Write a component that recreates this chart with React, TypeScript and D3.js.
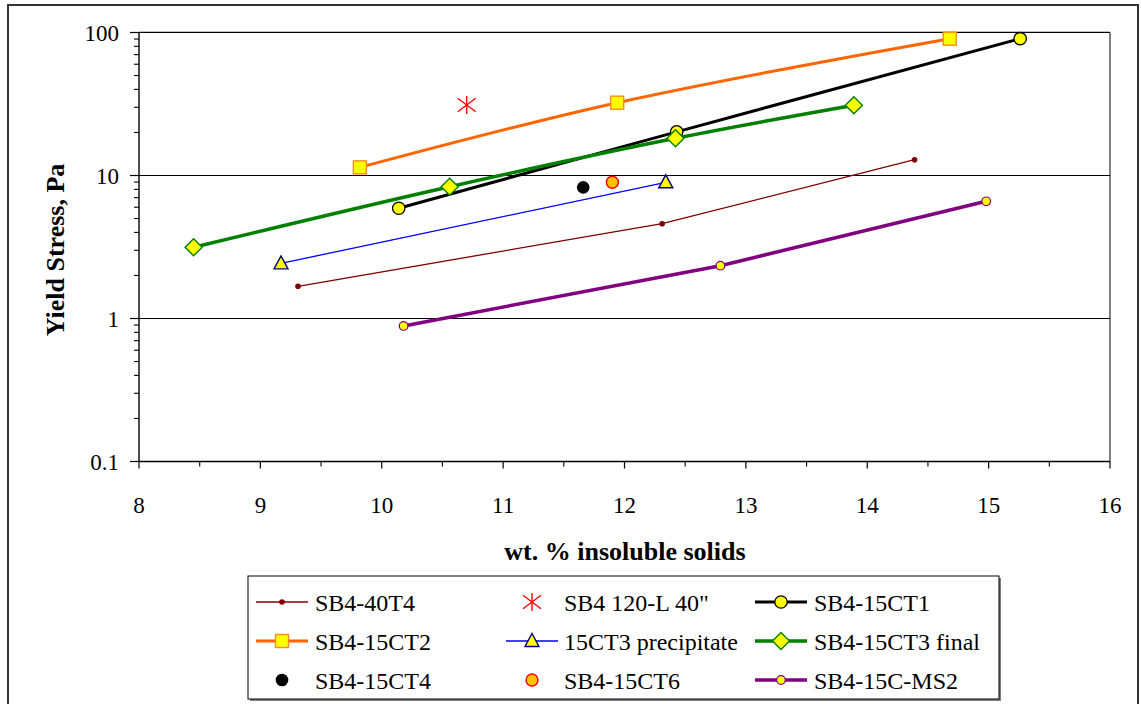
import React from "react";
import * as d3 from "d3";

const W = 1141;
const H = 704;

// x tick values / y tick values
const xTicks = [8, 9, 10, 11, 12, 13, 14, 15, 16];
const yTicks = [0.1, 1, 10, 100];
const yTickLabels = ["0.1", "1", "10", "100"];

// Series data
const s40T4X = [9.31, 12.31, 14.39];
const s40T4Y = [1.68, 4.6, 12.9];

const s120LX = [10.7];
const s120LY = [31.1];

const sCT1X = [10.14, 12.43, 15.26];
const sCT1Y = [5.9, 20.2, 90.5];

const sCT2X = [9.82, 11.94, 14.68];
const sCT2Y = [11.4, 32.3, 90.5];

const sCT3pX = [9.17, 12.34];
const sCT3pY = [2.43, 8.96];

const sCT3fX = [8.45, 10.56, 12.42, 13.89];
const sCT3fY = [3.15, 8.35, 18.2, 31.0];

const sCT4X = [11.66];
const sCT4Y = [8.26];

const sCT6X = [11.9];
const sCT6Y = [8.96];

const sMS2X = [10.18, 12.79, 14.98];
const sMS2Y = [0.887, 2.34, 6.6];

type Marker = "dot" | "star" | "circle" | "square" | "triangle" | "diamond" | "bigdot" | "orangecircle" | "smallcircle";

interface Series {
  name: string;
  xs: number[];
  ys: number[];
  color: string | null;
  width: number;
  smooth: boolean;
  marker: Marker;
}

const series: Series[] = [
  { name: "SB4-40T4", xs: s40T4X, ys: s40T4Y, color: "#800000", width: 1.3, smooth: false, marker: "dot" },
  { name: "SB4 120-L 40\"", xs: s120LX, ys: s120LY, color: null, width: 0, smooth: false, marker: "star" },
  { name: "SB4-15CT1", xs: sCT1X, ys: sCT1Y, color: "#000000", width: 3, smooth: true, marker: "circle" },
  { name: "SB4-15CT2", xs: sCT2X, ys: sCT2Y, color: "#FF6600", width: 3, smooth: true, marker: "square" },
  { name: "15CT3 precipitate", xs: sCT3pX, ys: sCT3pY, color: "#0000FF", width: 1.3, smooth: false, marker: "triangle" },
  { name: "SB4-15CT3 final", xs: sCT3fX, ys: sCT3fY, color: "#008000", width: 3.5, smooth: true, marker: "diamond" },
  { name: "SB4-15CT4", xs: sCT4X, ys: sCT4Y, color: null, width: 0, smooth: false, marker: "bigdot" },
  { name: "SB4-15CT6", xs: sCT6X, ys: sCT6Y, color: null, width: 0, smooth: false, marker: "orangecircle" },
  { name: "SB4-15C-MS2", xs: sMS2X, ys: sMS2Y, color: "#800080", width: 3.5, smooth: false, marker: "smallcircle" },
];

const SERIF = "'Liberation Serif', Tinos, 'Times New Roman', serif";

function MarkerShape({ type, x, y }: { type: Marker; x: number; y: number }) {
  switch (type) {
    case "dot":
      return <circle cx={x} cy={y} r={2.8} fill="#800000" />;
    case "star": {
      const s = 9;
      return (
        <g stroke="#FF0000" strokeWidth={1.4}>
          <line x1={x} y1={y - s} x2={x} y2={y + s} />
          <line x1={x - s} y1={y - s * 0.75} x2={x + s} y2={y + s * 0.75} />
          <line x1={x - s} y1={y + s * 0.75} x2={x + s} y2={y - s * 0.75} />
        </g>
      );
    }
    case "circle":
      return <circle cx={x} cy={y} r={6.2} fill="#FFFF00" stroke="#000" strokeWidth={1.3} />;
    case "square":
      return <rect x={x - 6.5} y={y - 6.5} width={13} height={13} fill="#FFFF00" stroke="#FF8C1A" strokeWidth={1.4} />;
    case "triangle":
      return (
        <path
          d={`M${x},${y - 7.5} L${x + 7},${y + 5.5} L${x - 7},${y + 5.5} Z`}
          fill="#FFFF00"
          stroke="#000080"
          strokeWidth={1.4}
        />
      );
    case "diamond":
      return (
        <path
          d={`M${x},${y - 8.5} L${x + 8.5},${y} L${x},${y + 8.5} L${x - 8.5},${y} Z`}
          fill="#FFFF00"
          stroke="#008000"
          strokeWidth={1.4}
        />
      );
    case "bigdot":
      return <circle cx={x} cy={y} r={6.3} fill="#000" />;
    case "orangecircle":
      return <circle cx={x} cy={y} r={6} fill="#FFC000" stroke="#FF0000" strokeWidth={1.4} />;
    case "smallcircle":
      return <circle cx={x} cy={y} r={4.3} fill="#FFFF00" stroke="#800080" strokeWidth={1.2} />;
  }
}

export default function App() {
  const left = 139;
  const right = 1110;
  const top = 32.5;
  const bottom = 461.5;

  const x = d3.scaleLinear().domain([8, 16]).range([left, right]);
  const y = d3.scaleLog().domain([0.1, 100]).range([bottom, top]);

  const minorY: number[] = [];
  for (const dec of [0.1, 1, 10]) {
    for (let k = 2; k <= 9; k++) minorY.push(dec * k);
  }
  const minorX = d3.range(8.5, 16, 1);

  const legendCols = [
    { sx0: 256, sx1: 308, tx: 315 },
    { sx0: 506, sx1: 558, tx: 564 },
    { sx0: 755, sx1: 807, tx: 814 },
  ];
  const legendRows = [602, 641, 680];
  const ts = { fontFamily: SERIF };

  return (
    <svg width={W} height={H} style={{ position: "absolute", left: 0, top: 0, background: "#fff", fontFamily: SERIF }}>
      {/* outer chart border */}
      <rect x={8} y={5} width={1130} height={720} fill="#fff" stroke="#333" strokeWidth={2} />

      {/* plot frame right side */}
      <line x1={right} y1={top} x2={right} y2={bottom} stroke="#808080" strokeWidth={2} />
      <line x1={left} y1={top - 0.5} x2={right} y2={top - 0.5} stroke="#808080" strokeWidth={1} />

      {/* gridlines */}
      {[1, 10, 100].map((v) => (
        <line key={v} x1={left} x2={right} y1={y(v)} y2={y(v)} stroke="#000" strokeWidth={1.1} />
      ))}

      {/* axes */}
      <line x1={left} y1={top} x2={left} y2={bottom} stroke="#000" strokeWidth={1.4} />
      <line x1={left} y1={bottom} x2={right} y2={bottom} stroke="#000" strokeWidth={1.4} />

      {yTicks.map((v) => (
        <line key={"ym" + v} x1={left - 9} x2={left} y1={y(v)} y2={y(v)} stroke="#000" strokeWidth={1.2} />
      ))}
      {minorY.map((v) => (
        <line key={"yn" + v} x1={left - 5} x2={left} y1={y(v)} y2={y(v)} stroke="#000" strokeWidth={1.1} />
      ))}
      {xTicks.map((v) => (
        <line key={"xm" + v} x1={x(v)} x2={x(v)} y1={bottom} y2={bottom + 7} stroke="#000" strokeWidth={1.2} />
      ))}
      {minorX.map((v) => (
        <line key={"xn" + v} x1={x(v)} x2={x(v)} y1={bottom} y2={bottom + 5} stroke="#000" strokeWidth={1.1} />
      ))}

      {yTicks.map((v, i) => (
        <text key={"yl" + v} x={119} y={y(v) + 8} textAnchor="end" fontSize={23} fill="#000" style={ts}>
          {yTickLabels[i]}
        </text>
      ))}
      {xTicks.map((v) => (
        <text key={"xl" + v} x={x(v)} y={513} textAnchor="middle" fontSize={23} fill="#000" style={ts}>
          {v}
        </text>
      ))}

      {/* axis titles */}
      <text x={625} y={560} textAnchor="middle" fontSize={26} fontWeight="bold" fill="#000" style={ts}>
        wt. % insoluble solids
      </text>
      <text
        transform={`translate(64,250) rotate(-90)`}
        textAnchor="middle"
        fontSize={26}
        fontWeight="bold"
        fill="#000"
        style={ts}
      >
        Yield Stress, Pa
      </text>

      {/* series lines */}
      {series.map((s) => {
        if (!s.color || s.xs.length < 2) return null;
        const pts: [number, number][] = s.xs.map((xv, i) => [x(xv), y(s.ys[i])]);
        const gen = d3
          .line<[number, number]>()
          .x((d) => d[0])
          .y((d) => d[1])
          .curve(s.smooth ? d3.curveCatmullRom.alpha(0.5) : d3.curveLinear);
        return (
          <path
            key={"l" + s.name}
            d={gen(pts) || ""}
            fill="none"
            stroke={s.color}
            strokeWidth={s.width}
            strokeLinejoin="round"
            strokeLinecap="round"
          />
        );
      })}
      {/* markers */}
      {series.map((s) =>
        s.xs.map((xv, i) => <MarkerShape key={s.name + i} type={s.marker} x={x(xv)} y={y(s.ys[i])} />)
      )}

      {/* legend */}
      <rect x={250} y={578} width={751} height={123} fill="#808080" />
      <rect x={248} y={576} width={751} height={123} fill="#fff" stroke="#000" strokeWidth={1} />
      {series.map((s, i) => {
        const col = legendCols[i % 3];
        const ry = legendRows[Math.floor(i / 3)];
        const mx = (col.sx0 + col.sx1) / 2;
        return (
          <g key={"lg" + s.name}>
            {s.color && (
              <line x1={col.sx0} x2={col.sx1} y1={ry} y2={ry} stroke={s.color} strokeWidth={s.width} />
            )}
            <MarkerShape type={s.marker} x={mx} y={ry} />
            <text x={col.tx} y={ry + 8.5} fontSize={24} fill="#000" style={ts}>
              {s.name}
            </text>
          </g>
        );
      })}
    </svg>
  );
}
